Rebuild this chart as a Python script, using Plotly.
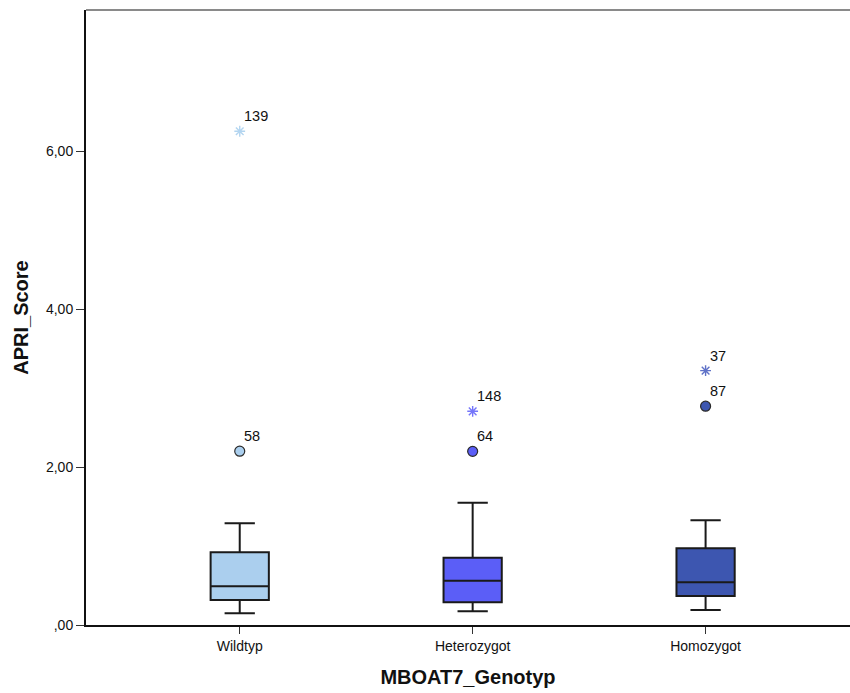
import plotly.graph_objects as go

categories = ["Wildtyp", "Heterozygot", "Homozygot"]
lower_whisker = [0.148, 0.173, 0.19]
q1 = [0.316, 0.287, 0.367]
median = [0.49, 0.561, 0.54]
q3 = [0.92, 0.852, 0.97]
upper_whisker = [1.287, 1.548, 1.325]

circle_vals = [2.20, 2.198, 2.77]
circle_ids = ["58", "64", "87"]
star_vals = [6.25, 2.705, 3.22]
star_ids = ["139", "148", "37"]

box_colors = ["#abcfee", "#5b5ef7", "#3d56b0"]
star_colors = ["#b3d5f0", "#7576fa", "#5f72c8"]

y_ticks = [0, 2, 4, 6]
y_ticktext = [",00", "2,00", "4,00", "6,00"]

FONT = "Liberation Sans, Arial, sans-serif"

fig = go.Figure()
for i, c in enumerate(categories):
    fig.add_trace(go.Box(
        x=[i], q1=[q1[i]], median=[median[i]], q3=[q3[i]],
        lowerfence=[lower_whisker[i]], upperfence=[upper_whisker[i]],
        boxpoints=False, width=0.25, whiskerwidth=0.52,
        fillcolor=box_colors[i], line=dict(color="#1a1a1a", width=2),
        showlegend=False, hoverinfo="skip"))
    fig.add_trace(go.Scatter(
        x=[i], y=[circle_vals[i]], mode="markers",
        marker=dict(symbol="circle", size=10, color=box_colors[i],
                    line=dict(color="#2a2a2a", width=1.2)),
        showlegend=False))
    fig.add_trace(go.Scatter(
        x=[i], y=[star_vals[i]], mode="markers",
        marker=dict(symbol="asterisk-open", size=9, color=star_colors[i],
                    line=dict(color=star_colors[i], width=1.4)),
        showlegend=False))
    for v, t in ((circle_vals[i], circle_ids[i]), (star_vals[i], star_ids[i])):
        fig.add_annotation(x=i, y=v, text=t, showarrow=False,
                           xanchor="left", yanchor="bottom",
                           xshift=2, yshift=5,
                           font=dict(family=FONT, size=14.5, color="#111"))

fig.add_shape(type="line", xref="paper", yref="paper", x0=0, x1=1, y0=1, y1=1,
              line=dict(color="#8a8a8a", width=2))

fig.update_layout(
    width=850, height=693,
    margin=dict(l=86, r=0, t=10, b=68),
    plot_bgcolor="white", paper_bgcolor="white",
    font=dict(family=FONT, color="#111"),
    xaxis=dict(range=[-0.66, 2.62], tickvals=[0, 1, 2], ticktext=categories,
               showgrid=False, zeroline=False, showline=True, linecolor="#111",
               linewidth=2, ticks="outside", ticklen=7, tickcolor="#333",
               tickfont=dict(size=14),
               title=dict(text="<b>MBOAT7_Genotyp</b>", font=dict(size=20), standoff=17)),
    yaxis=dict(range=[0, 7.785], tickvals=y_ticks, ticktext=y_ticktext,
               showgrid=False, zeroline=False, showline=True, linecolor="#111",
               linewidth=2, ticks="outside", ticklen=8, tickcolor="#333",
               tickfont=dict(size=14),
               title=dict(text="<b>APRI_Score</b>", font=dict(size=20), standoff=12)),
)

fig.write_html("out.html")
